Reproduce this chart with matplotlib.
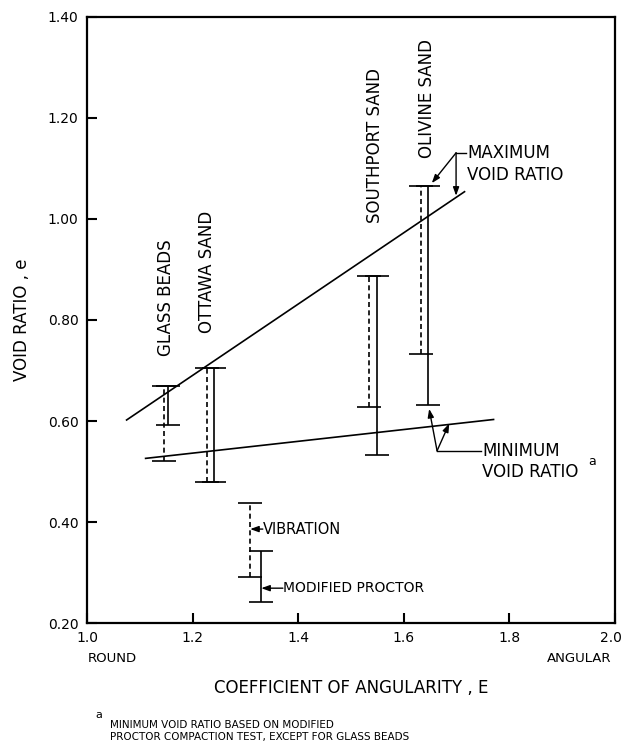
#!/usr/bin/env python3

import matplotlib
matplotlib.use("Agg")
import matplotlib.pyplot as plt
import matplotlib.transforms as mtransforms

# range of void ratio for each material (vibration = dashed, modified proctor = solid)
materials = ["GLASS BEADS", "OTTAWA SAND", "SOUTHPORT SAND", "OLIVINE SAND"]
vib_x = [1.145, 1.228, 1.535, 1.633]
vib_hi = [0.670, 0.705, 0.888, 1.065]
vib_lo = [0.521, 0.480, 0.628, 0.732]
proc_x = [1.154, 1.240, 1.550, 1.646]
proc_hi = [0.670, 0.705, 0.888, 1.065]
proc_lo = [0.592, 0.480, 0.533, 0.632]

# key samples (x, top, bottom)
key_vib = (1.309, 0.437, 0.292)
key_proc = (1.330, 0.343, 0.242)

# trend lines
emax_x = [1.075, 1.715]
emax_y = [0.602, 1.054]
emin_x = [1.111, 1.770]
emin_y = [0.526, 0.603]

label_x = [1.150, 1.227, 1.545, 1.643]
label_y = [0.728, 0.775, 0.992, 1.121]

xticks = [1.0, 1.2, 1.4, 1.6, 1.8, 2.0]
yticks = [0.20, 0.40, 0.60, 0.80, 1.00, 1.20, 1.40]

fig = plt.figure(figsize=(6.24, 7.44), dpi=100)
ax = fig.add_axes([0.1394, 0.1626, 0.8462, 0.8146])

dashes = (0, (3, 2))
lw = 1.2


def bar(x, lo, hi, ls):
    eb = ax.errorbar([x], [lo], yerr=[[0], [hi - lo]], fmt="none", ecolor="k",
                     elinewidth=lw, capsize=8.5, capthick=lw)
    for c in eb[2]:
        c.set_linestyle(ls)
    return eb


for x, lo, hi in zip(vib_x, vib_lo, vib_hi):
    bar(x, lo, hi, dashes)
for x, lo, hi in zip(proc_x, proc_lo, proc_hi):
    bar(x, lo, hi, "-")

bar(key_vib[0], key_vib[2], key_vib[1], dashes)
bar(key_proc[0], key_proc[2], key_proc[1], "-")

ax.plot(emax_x, emax_y, "k-", lw=lw)
ax.plot(emin_x, emin_y, "k-", lw=lw)

for name, x, y in zip(materials, label_x, label_y):
    ax.text(x, y, name, rotation=90, ha="center", va="bottom", fontsize=12)

arrow = dict(arrowstyle="-|>,head_length=0.5,head_width=0.18", color="k", lw=1.0,
             shrinkA=0, shrinkB=0)

# key labels
ax.annotate("", xy=(key_vib[0], 0.386), xytext=(1.333, 0.386), arrowprops=arrow)
ax.text(1.334, 0.386, "VIBRATION", ha="left", va="center", fontsize=10.5)
ax.annotate("", xy=(key_proc[0], 0.269), xytext=(1.371, 0.269), arrowprops=arrow)
ax.text(1.372, 0.269, "MODIFIED PROCTOR", ha="left", va="center", fontsize=10)

# maximum void ratio callout
ax.plot([1.699, 1.718], [1.131, 1.131], "k-", lw=1.0)
ax.annotate("", xy=(1.653, 1.071), xytext=(1.699, 1.131), arrowprops=arrow)
ax.annotate("", xy=(1.699, 1.046), xytext=(1.699, 1.131), arrowprops=arrow)
ax.text(1.720, 1.131, "MAXIMUM", ha="left", va="center", fontsize=12)
ax.text(1.720, 1.088, "VOID RATIO", ha="left", va="center", fontsize=12)

# minimum void ratio callout
ax.plot([1.663, 1.746], [0.541, 0.541], "k-", lw=1.0)
ax.annotate("", xy=(1.648, 0.624), xytext=(1.663, 0.541), arrowprops=arrow)
ax.annotate("", xy=(1.686, 0.595), xytext=(1.663, 0.541), arrowprops=arrow)
ax.text(1.749, 0.541, "MINIMUM", ha="left", va="center", fontsize=12)
ax.text(1.749, 0.500, "VOID RATIO", ha="left", va="center", fontsize=12)
ax.text(1.950, 0.519, "a", ha="left", va="center", fontsize=9)

ax.set_xlim(1.0, 2.0)
ax.set_ylim(0.20, 1.40)
ax.set_xticks(xticks)
ax.set_xticklabels([f"{t:.1f}" for t in xticks])
ax.set_yticks(yticks)
ax.set_yticklabels([f"{t:.2f}" for t in yticks])
ax.tick_params(direction="in", length=7, width=1.5, labelsize=10, pad=6,
               top=False, right=False)
for s in ax.spines.values():
    s.set_linewidth(1.6)

# last x label sits against the right edge of the page
last = ax.get_xticklabels()[-1]
last.set_horizontalalignment("right")
last.set_transform(last.get_transform() +
                   mtransforms.ScaledTranslation(7 / 100, 0, fig.dpi_scale_trans))

ax.set_ylabel("VOID RATIO , e", fontsize=12, labelpad=12)
fig.text(88 / 624, 1 - 658 / 744, "ROUND", ha="left", va="center", fontsize=9.5)
fig.text(611 / 624, 1 - 658 / 744, "ANGULAR", ha="right", va="center", fontsize=9.5)
fig.text(351 / 624, 1 - 688 / 744, "COEFFICIENT OF ANGULARITY , E", ha="center",
         va="center", fontsize=12)
fig.text(95 / 624, 1 - 715 / 744, "a", ha="left", va="center", fontsize=8)
fig.text(110 / 624, 1 - 725 / 744, "MINIMUM VOID RATIO BASED ON MODIFIED",
         ha="left", va="center", fontsize=7.5)
fig.text(110 / 624, 1 - 737 / 744, "PROCTOR COMPACTION TEST, EXCEPT FOR GLASS BEADS",
         ha="left", va="center", fontsize=7.5)

plt.savefig("out.png", dpi=100)
